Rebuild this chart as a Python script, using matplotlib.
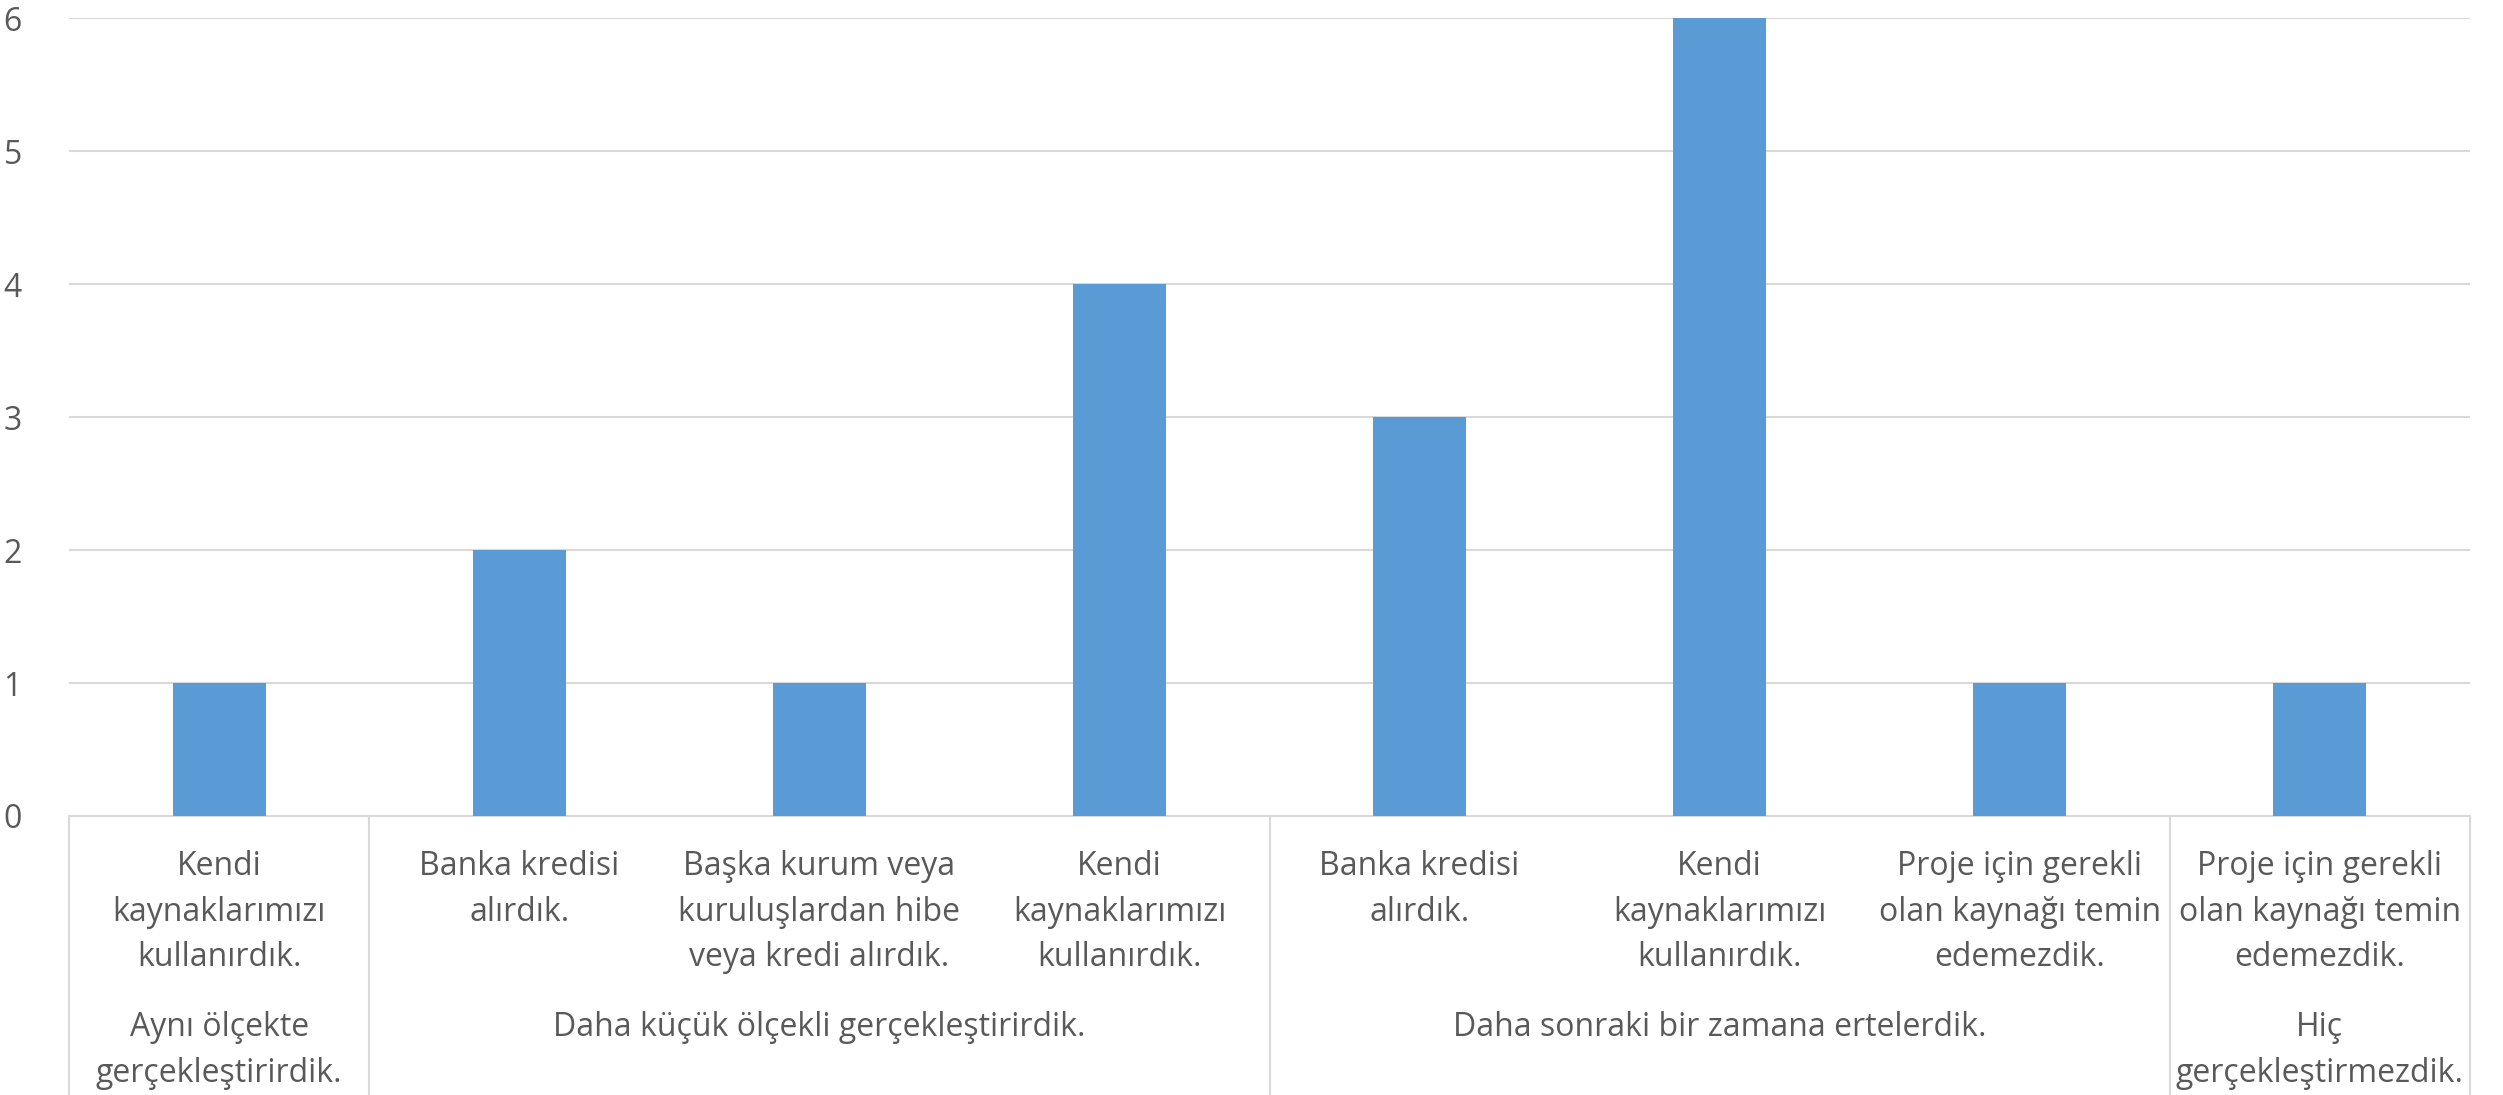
from typing import List

import matplotlib.pyplot as plt
import numpy as np


# sub categories (lower level of the x axis)
categories = [
    "Kendi\nkaynaklarımızı\nkullanırdık.",
    "Banka kredisi\nalırdık.",
    "Başka kurum veya\nkuruluşlardan hibe\nveya kredi alırdık.",
    "Kendi\nkaynaklarımızı\nkullanırdık.",
    "Banka kredisi\nalırdık.",
    "Kendi\nkaynaklarımızı\nkullanırdık.",
    "Proje için gerekli\nolan kaynağı temin\nedemezdik.",
    "Proje için gerekli\nolan kaynağı temin\nedemezdik.",
]
values = [1, 2, 1, 4, 3, 6, 1, 1]

# upper level of the x axis: label and how many categories it covers
groups = [
    "Aynı ölçekte\ngerçekleştirirdik.",
    "Daha küçük ölçekli gerçekleştirirdik.",
    "Daha sonraki bir zamana ertelerdik.",
    "Hiç\ngerçekleştirmezdik.",
]
group_sizes = [1, 3, 3, 1]

y_ticks = [0, 1, 2, 3, 4, 5, 6]

BAR_COLOR = "#5B9BD5"
GRID_COLOR = "#D9D9D9"
TEXT_COLOR = "#595959"


def plot_grouped_bars(categories: List[str], values: List[float],
                      groups: List[str], group_sizes: List[int], save: str):
    plt.rcParams["font.family"] = ["Open Sans", "DejaVu Sans"]

    fig = plt.figure(figsize=(25.03, 10.95), dpi=100)
    ax = fig.add_axes([0.0276, 0.2548, 0.9592, 0.7285])

    x = np.arange(len(categories))
    ax.bar(x, values, width=0.31, color=BAR_COLOR, zorder=3)

    ax.set_xlim(-0.5, len(categories) - 0.5)
    ax.set_ylim(y_ticks[0], y_ticks[-1])
    ax.set_yticks(y_ticks)
    ax.set_xticks([])
    ax.tick_params(axis="y", length=0, pad=34, labelsize=23, labelcolor=TEXT_COLOR)
    ax.grid(axis="y", color=GRID_COLOR, linewidth=1.5, zorder=0)
    for side in ["top", "right", "left"]:
        ax.spines[side].set_visible(False)
    ax.spines["bottom"].set_color(GRID_COLOR)
    ax.spines["bottom"].set_linewidth(1.5)

    trans = ax.get_xaxis_transform()

    # lower level labels
    for xi, label in zip(x, categories):
        ax.text(xi, -0.043, label, transform=trans, ha="center", va="top",
                fontsize=23, color=TEXT_COLOR, linespacing=1.5)

    # upper level labels and separators
    bottom = -0.35
    start = 0
    edges = [-0.5]
    for label, size in zip(groups, group_sizes):
        center = start + (size - 1) / 2
        ax.text(center, -0.245, label, transform=trans, ha="center", va="top",
                fontsize=23, color=TEXT_COLOR, linespacing=1.5)
        start += size
        edges.append(start - 0.5)
    for e in edges:
        ax.plot([e, e], [0, bottom], transform=trans, color=GRID_COLOR,
                linewidth=1.5, clip_on=False)

    fig.savefig(save, dpi=100)


if __name__ == "__main__":
    plot_grouped_bars(categories, values, groups, group_sizes, "out.png")
